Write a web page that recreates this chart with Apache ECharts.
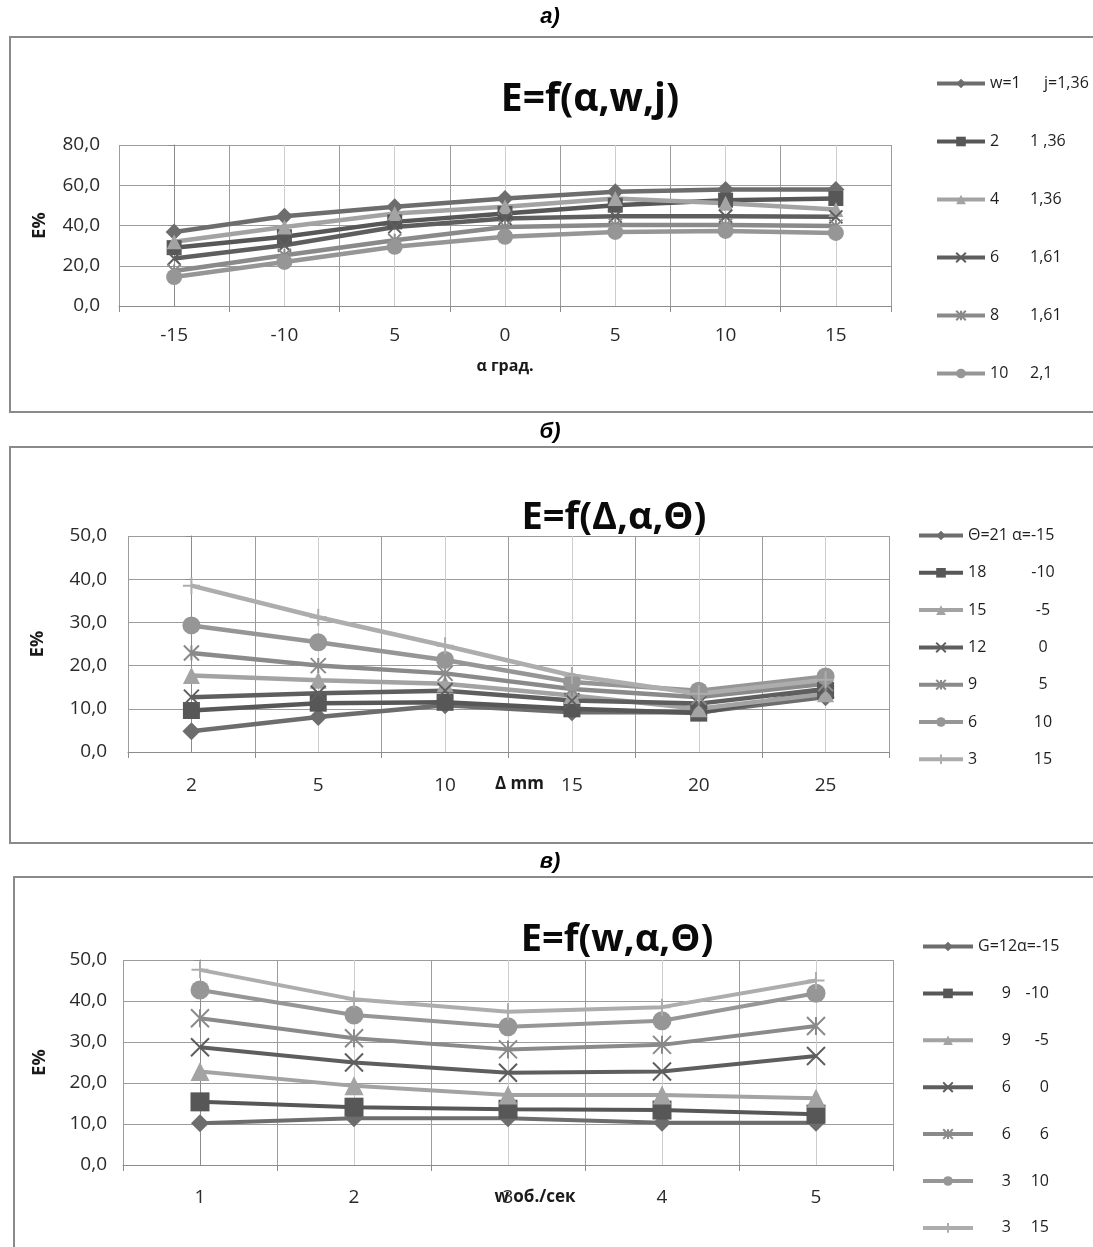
<!DOCTYPE html>
<html>
<head>
<meta charset="utf-8">
<script src="https://cdn.jsdelivr.net/npm/echarts@6.0.0/dist/echarts.min.js"></script>
<style>
  html, body { margin: 0; padding: 0; background: #fff; }
  #main { width: 1093px; height: 1247px; }
</style>
</head>
<body>
<div id="main"></div>
<script>
// ---- data: chart а) E=f(α,w,j)
const catsA = ['-15', '-10', '5', '0', '5', '10', '15'];
const legWA = ['w=1', '2', '4', '6', '8', '10'];
const legJA = ['j=1,36', '1 ,36', '1,36', '1,61', '1,61', '2,1'];
const aW1 = [36.8, 44.6, 49.3, 53.4, 56.8, 57.9, 57.9];
const aW2 = [29.0, 34.4, 41.8, 46.0, 50.1, 52.6, 53.4];
const aW4 = [31.9, 39.3, 46.0, 49.3, 53.4, 51.0, 48.0];
const aW6 = [23.6, 30.2, 39.3, 43.5, 44.6, 44.6, 44.3];
const aW8 = [17.4, 25.2, 32.7, 39.3, 40.2, 40.2, 39.7];
const aW10 = [14.4, 21.9, 29.4, 34.4, 36.8, 37.3, 36.3];

// ---- data: chart б) E=f(Δ,α,Θ)
const catsB = ['2', '5', '10', '15', '20', '25'];
const legThB = ['Θ=21', '18', '15', '12', '9', '6', '3'];
const legAlB = ['α=-15', '-10', '-5', '0', '5', '10', '15'];
const bT21 = [4.8, 8.1, 10.8, 9.2, 9.2, 12.7];
const bT18 = [9.6, 11.3, 11.5, 10.0, 9.0, 14.2];
const bT15 = [17.7, 16.6, 15.8, 13.1, 10.0, 13.5];
const bT12 = [12.7, 13.6, 14.2, 11.9, 11.2, 14.6];
const bT9 = [22.9, 20.0, 18.2, 14.6, 12.7, 15.8];
const bT6 = [29.3, 25.4, 21.3, 16.2, 14.2, 17.5];
const bT3 = [38.5, 31.2, 24.6, 17.7, 13.5, 16.7];

// ---- data: chart в) E=f(w,α,Θ)
const catsC = ['1', '2', '3', '4', '5'];
const legGC = ['G=12α=-15', '9', '9', '6', '6', '3', '3'];
const legAlC = ['', '-10', '-5', '0', '6', '10', '15'];
const cS1 = [10.2, 11.4, 11.4, 10.3, 10.3];
const cS2 = [15.4, 14.1, 13.6, 13.4, 12.4];
const cS3 = [22.8, 19.3, 17.1, 17.1, 16.3];
const cS4 = [28.7, 25.0, 22.5, 22.8, 26.6];
const cS5 = [35.8, 30.9, 28.2, 29.3, 33.9];
const cS6 = [42.7, 36.6, 33.7, 35.2, 41.9];
const cS7 = [47.6, 40.4, 37.4, 38.5, 45.0];

const FONT = "'Open Sans', 'DejaVu Sans', sans-serif";
const X_PATH = 'path://M0,0L10,10M10,0L0,10';
const STAR_PATH = 'path://M0,0L10,10M10,0L0,10M5,0L5,10';
const PLUS_PATH = 'path://M5,0L5,10M0,5L10,5';

// marker look for each series slot (diamond, square, triangle, x, star, circle, plus)
const markers = [
  {symbol: 'diamond', color: '#6d6d6d'},
  {symbol: 'rect', color: '#575757'},
  {symbol: 'triangle', color: '#a3a3a3'},
  {symbol: X_PATH, color: '#5e5e5e', stroke: true},
  {symbol: STAR_PATH, color: '#8a8a8a', stroke: true},
  {symbol: 'circle', color: '#969696'},
  {symbol: PLUS_PATH, color: '#adadad', stroke: true}
];

function fmt1 (v) { return v.toFixed(1).replace('.', ','); }

function makeSeries (name, data, slot, xi, yi, size, lw) {
  const m = markers[slot];
  return {
    name: name,
    type: 'line',
    xAxisIndex: xi,
    yAxisIndex: yi,
    data: data,
    symbol: m.symbol,
    symbolSize: size,
    showAllSymbol: true,
    color: m.color,
    lineStyle: {color: m.color, width: lw},
    itemStyle: m.stroke ? {color: m.color, borderColor: m.color, borderWidth: 2} : {color: m.color},
    emphasis: {disabled: true},
    z: 3
  };
}

function catAxis (grid, cats, margin) {
  return {
    type: 'category',
    gridIndex: grid,
    data: cats,
    boundaryGap: true,
    axisLine: {lineStyle: {color: '#8c8c8c', width: 1}},
    axisTick: {show: true, length: 6, lineStyle: {color: '#8c8c8c'}},
    axisLabel: {color: '#2a2a2a', fontFamily: FONT, fontSize: 19, margin: margin},
    splitLine: {show: true, lineStyle: {color: '#9c9c9c', width: 1}}
  };
}

// hidden value axis only used for the light lines through category centres
function centreAxis (grid, n) {
  return {
    type: 'value',
    gridIndex: grid,
    position: 'top',
    min: -0.5,
    max: n - 0.5,
    interval: 0.5,
    axisLine: {show: false},
    axisTick: {show: false},
    axisLabel: {show: false},
    splitLine: {show: true, lineStyle: {color: ['rgba(0,0,0,0)', '#cdcdcd'], width: 1}}
  };
}

function valAxis (grid, max, interval, margin, nameGap) {
  return {
    type: 'value',
    gridIndex: grid,
    min: 0,
    max: max,
    interval: interval,
    name: 'E%',
    nameLocation: 'middle',
    nameGap: nameGap,
    nameMoveOverlap: false,
    nameTextStyle: {color: '#1a1a1a', fontFamily: FONT, fontSize: 18, fontWeight: 'bold'},
    axisLine: {show: true, lineStyle: {color: '#8c8c8c'}},
    axisTick: {show: true, length: 6, lineStyle: {color: '#8c8c8c'}},
    axisLabel: {color: '#2a2a2a', fontFamily: FONT, fontSize: 19, margin: margin, formatter: fmt1},
    splitLine: {show: true, lineStyle: {color: '#9c9c9c', width: 1}}
  };
}

const namesA = legWA.map((w, i) => 'a' + i);
const namesB = legThB.map((w, i) => 'b' + i);
const namesC = legGC.map((w, i) => 'c' + i);

const xAxes = [
  catAxis(0, catsA, 20), centreAxis(0, catsA.length),
  catAxis(1, catsB, 24), centreAxis(1, catsB.length),
  catAxis(2, catsC, 23), centreAxis(2, catsC.length)
];
xAxes[0].name = 'α град.';
xAxes[0].nameLocation = 'middle';
xAxes[0].nameGap = 52;
xAxes[0].nameMoveOverlap = false;
xAxes[0].nameTextStyle = {color: '#1a1a1a', fontFamily: FONT, fontSize: 16, fontWeight: 'bold'};
xAxes[2].name = 'Δ mm';
xAxes[2].nameLocation = 'middle';
xAxes[2].nameGap = 24;
xAxes[2].nameMoveOverlap = false;
xAxes[2].nameTextStyle = {color: '#1a1a1a', fontFamily: FONT, fontSize: 17, fontWeight: 'bold', padding: [0, 0, 0, 22]};
xAxes[4].name = 'w об./сек';
xAxes[4].nameLocation = 'middle';
xAxes[4].nameGap = 24;
xAxes[4].nameMoveOverlap = false;
xAxes[4].nameTextStyle = {color: '#1a1a1a', fontFamily: FONT, fontSize: 17, fontWeight: 'bold', padding: [0, 0, 0, 54]};

const yAxes = [
  valAxis(0, 80, 20, 19, 70),
  valAxis(1, 50, 10, 21, 81),
  valAxis(2, 50, 10, 16, 74)
];

const seriesA = [aW1, aW2, aW4, aW6, aW8, aW10];
const seriesB = [bT21, bT18, bT15, bT12, bT9, bT6, bT3];
const seriesC = [cS1, cS2, cS3, cS4, cS5, cS6, cS7];
const symSizeA = [17, 15, 15, 13, 13, 16];
const symSizeB = [18, 17, 17, 15, 15, 18, 17];
const symSizeC = [18, 19, 19, 18, 18, 19, 17];

const series = [];
seriesA.forEach((d, i) => series.push(makeSeries(namesA[i], d, i, 0, 0, symSizeA[i], 4.5)));
seriesB.forEach((d, i) => series.push(makeSeries(namesB[i], d, i, 2, 1, symSizeB[i], 4.5)));
seriesC.forEach((d, i) => series.push(makeSeries(namesC[i], d, i, 4, 2, symSizeC[i], 4)));

const LEG_FS = 16;
const legText = {color: '#1e1e1e', fontFamily: FONT, fontSize: LEG_FS, lineHeight: 17};
function rs (extra) { return Object.assign({fontFamily: FONT, fontSize: LEG_FS, color: '#1e1e1e'}, extra || {}); }

const option = {
  animation: false,
  backgroundColor: '#fff',
  grid: [
    {left: 119, top: 145, width: 772, height: 161},
    {left: 128, top: 536, width: 761, height: 216},
    {left: 123, top: 960, width: 770, height: 205}
  ],
  xAxis: xAxes,
  yAxis: yAxes,
  legend: [
    {
      data: namesA, orient: 'vertical', left: 930, top: 70,
      itemWidth: 48, itemHeight: 12, itemGap: 41,
      lineStyle: {width: 4},
      textStyle: Object.assign({}, legText, {
        rich: {a0: rs({width: 54}), a: rs({width: 40}), b: rs()}
      }),
      formatter: name => {
        const i = namesA.indexOf(name);
        return '{' + (i === 0 ? 'a0' : 'a') + '|' + legWA[i] + '}{b|' + legJA[i] + '}';
      }
    },
    {
      data: namesB, orient: 'vertical', left: 912, top: 522,
      itemWidth: 44, itemHeight: 12, itemGap: 20.3,
      lineStyle: {width: 4},
      textStyle: Object.assign({}, legText, {
        rich: {a0: rs({width: 44}), b0: rs(), a: rs({width: 62}), b: rs({width: 26, align: 'center'})}
      }),
      formatter: name => {
        const i = namesB.indexOf(name);
        if (i === 0) return '{a0|' + legThB[i] + '}{b0|' + legAlB[i] + '}';
        return '{a|' + legThB[i] + '}{b|' + legAlB[i] + '}';
      }
    },
    {
      data: namesC, orient: 'vertical', left: 916, top: 933,
      itemWidth: 50, itemHeight: 12, itemGap: 29.9,
      lineStyle: {width: 4},
      textStyle: Object.assign({}, legText, {
        rich: {a0: rs(), a: rs({width: 33, align: 'right'}), b: rs({width: 38, align: 'right'})}
      }),
      formatter: name => {
        const i = namesC.indexOf(name);
        if (i === 0) return '{a0|' + legGC[i] + '}';
        return '{a|' + legGC[i] + '}{b|' + legAlC[i] + '}';
      }
    }
  ],
  graphic: [
    {type: 'rect', shape: {x: 10, y: 37, width: 1100, height: 375}, style: {fill: 'none', stroke: '#8a8a8a', lineWidth: 2}, z: 0},
    {type: 'rect', shape: {x: 10, y: 447, width: 1100, height: 396}, style: {fill: 'none', stroke: '#8a8a8a', lineWidth: 2}, z: 0},
    {type: 'rect', shape: {x: 14, y: 877, width: 1100, height: 400}, style: {fill: 'none', stroke: '#8a8a8a', lineWidth: 2}, z: 0},
    {type: 'text', x: 550, y: 17, style: {text: 'а)', font: "italic bold 22px 'Liberation Sans Narrow', 'Liberation Sans', sans-serif", fill: '#000', align: 'center', verticalAlign: 'middle'}},
    {type: 'text', x: 550, y: 432, style: {text: 'б)', font: "italic bold 22px 'Liberation Sans Narrow', 'Liberation Sans', sans-serif", fill: '#000', align: 'center', verticalAlign: 'middle'}},
    {type: 'text', x: 550, y: 862, style: {text: 'в)', font: "italic bold 22px 'Liberation Sans Narrow', 'Liberation Sans', sans-serif", fill: '#000', align: 'center', verticalAlign: 'middle'}},
    {type: 'text', x: 590, y: 100, style: {text: 'E=f(α,w,j)', font: "bold 39px 'Open Sans', sans-serif", fill: '#0a0a0a', align: 'center', verticalAlign: 'middle'}, z: 10},
    {type: 'text', x: 614, y: 518, style: {text: 'E=f(Δ,α,Θ)', font: "bold 38px 'Open Sans', sans-serif", fill: '#0a0a0a', align: 'center', verticalAlign: 'middle'}, z: 10},
    {type: 'text', x: 617, y: 940, style: {text: 'E=f(w,α,Θ)', font: "bold 38px 'Open Sans', sans-serif", fill: '#0a0a0a', align: 'center', verticalAlign: 'middle'}, z: 10}
  ],
  series: series
};

const chart = echarts.init(document.getElementById('main'), null, {renderer: 'canvas'});
chart.setOption(option);
</script>
</body>
</html>
